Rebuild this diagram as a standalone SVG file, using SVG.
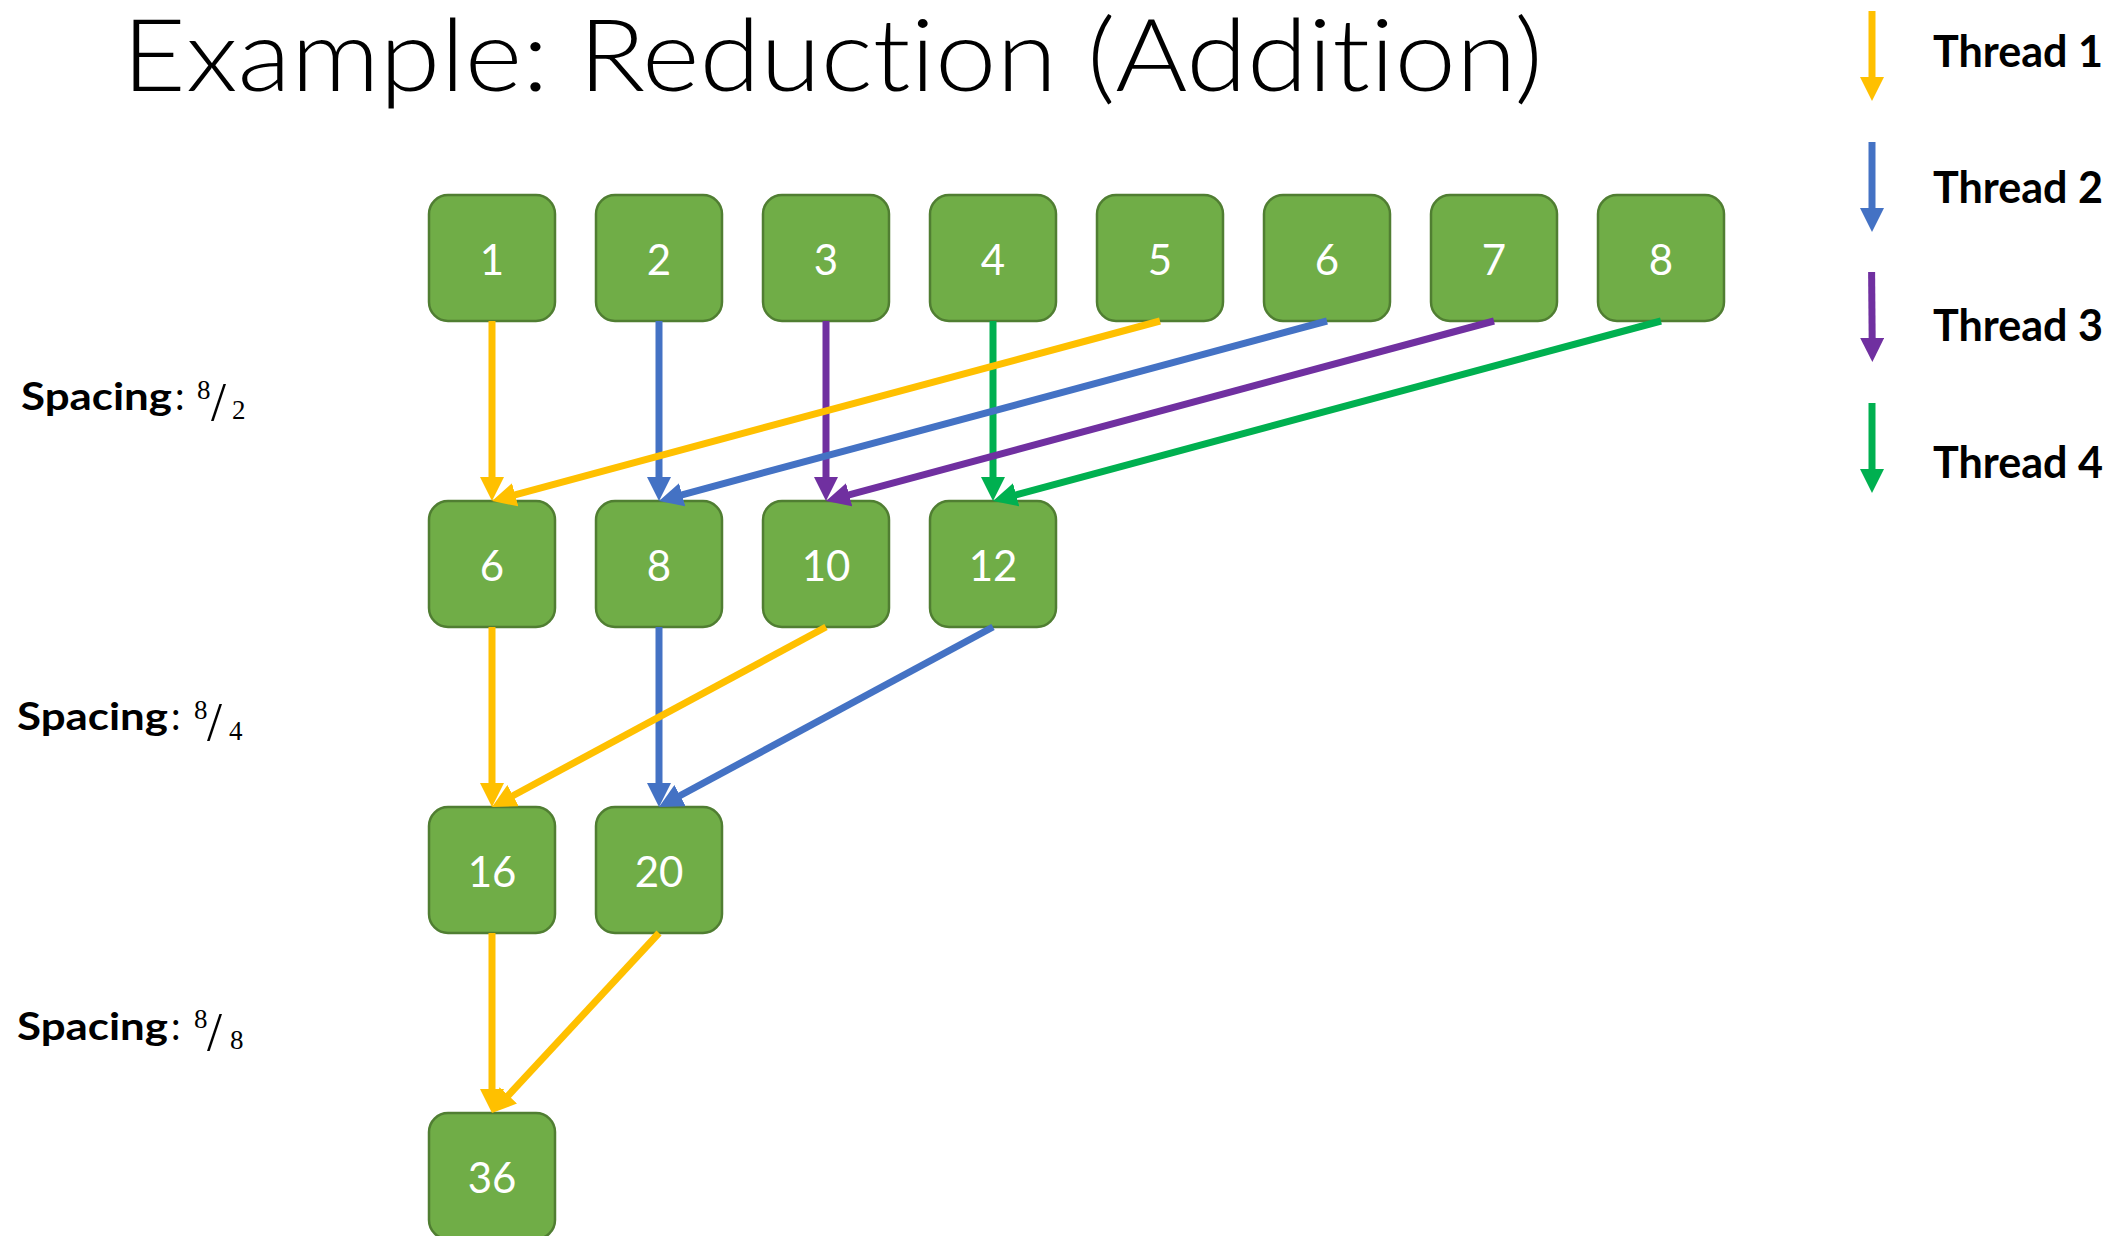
<svg xmlns="http://www.w3.org/2000/svg" width="2116" height="1236" viewBox="0 0 2116 1236">
  <style>
    text { font-variant-ligatures: none; font-feature-settings: "liga" 0, "clig" 0; }
    .title { font-family: Lato, "Open Sans", "Liberation Sans", sans-serif; font-weight: 300; font-size: 100px; fill: #000; }
    .box { fill: #70AD47; stroke: #507E32; stroke-width: 2.5; }
    .num { font-family: Lato, "Open Sans", "Liberation Sans", sans-serif; font-size: 42px; fill: #fff; text-anchor: middle; }
    .legend { font-family: Lato, "Liberation Sans", sans-serif; font-weight: 700; font-size: 44px; fill: #000; }
    .lab { font-family: Lato, "Liberation Sans", sans-serif; font-weight: 700; font-size: 38px; fill: #000; }
    .colon { font-family: Lato, "Liberation Sans", sans-serif; font-weight: 400; font-size: 38px; fill: #000; }
    .frac { font-family: "Liberation Serif", "DejaVu Serif", serif; font-size: 27px; fill: #000; }
    .slash { font-family: "Liberation Serif", "DejaVu Serif", serif; font-size: 54px; fill: #000; }
    .c { fill: none; stroke-width: 7; }
    .y { stroke: #FFC000; }
    .b { stroke: #4472C4; }
    .p { stroke: #7030A0; }
    .g { stroke: #00B050; }
    .y.c { marker-end: url(#ah-y); }
    .b.c { marker-end: url(#ah-b); }
    .p.c { marker-end: url(#ah-p); }
    .g.c { marker-end: url(#ah-g); }
  </style>
  <defs>
    <marker id="ah-y" markerUnits="userSpaceOnUse" viewBox="0 0 24 24" markerWidth="24" markerHeight="24" refX="4" refY="12" orient="auto"><path d="M0,0 L24,12 L0,24 z" fill="#FFC000"/></marker>
    <marker id="ah-b" markerUnits="userSpaceOnUse" viewBox="0 0 24 24" markerWidth="24" markerHeight="24" refX="4" refY="12" orient="auto"><path d="M0,0 L24,12 L0,24 z" fill="#4472C4"/></marker>
    <marker id="ah-p" markerUnits="userSpaceOnUse" viewBox="0 0 24 24" markerWidth="24" markerHeight="24" refX="4" refY="12" orient="auto"><path d="M0,0 L24,12 L0,24 z" fill="#7030A0"/></marker>
    <marker id="ah-g" markerUnits="userSpaceOnUse" viewBox="0 0 24 24" markerWidth="24" markerHeight="24" refX="4" refY="12" orient="auto"><path d="M0,0 L24,12 L0,24 z" fill="#00B050"/></marker>
  </defs>

  <rect width="2116" height="1236" fill="#fff"/>

  <text class="title" x="122" y="91" textLength="1421" lengthAdjust="spacingAndGlyphs">Example: Reduction (Addition)</text>

  <!-- spacing labels -->
  <g id="spacing-1">
    <text class="lab" x="21" y="409.5" textLength="151" lengthAdjust="spacingAndGlyphs">Spacing</text>
    <text class="colon" x="175" y="409.5">:</text>
    <text class="frac" x="197" y="399">8</text>
    <text class="slash" x="211" y="420">/</text>
    <text class="frac" x="232" y="419">2</text>
  </g>
  <g id="spacing-2">
    <text class="lab" x="17" y="729.5" textLength="151" lengthAdjust="spacingAndGlyphs">Spacing</text>
    <text class="colon" x="171" y="729.5">:</text>
    <text class="frac" x="194" y="719">8</text>
    <text class="slash" x="207" y="740">/</text>
    <text class="frac" x="229" y="739.5">4</text>
  </g>
  <g id="spacing-3">
    <text class="lab" x="17" y="1039.5" textLength="151" lengthAdjust="spacingAndGlyphs">Spacing</text>
    <text class="colon" x="171" y="1039.5">:</text>
    <text class="frac" x="194" y="1028">8</text>
    <text class="slash" x="207" y="1050">/</text>
    <text class="frac" x="230" y="1049">8</text>
  </g>

  <!-- input row -->
  <g id="n1-1"><rect class="box" x="429" y="195" width="126" height="126" rx="19"/><text class="num" x="492" y="275">1</text></g>
  <g id="n1-2"><rect class="box" x="596" y="195" width="126" height="126" rx="19"/><text class="num" x="659" y="275">2</text></g>
  <g id="n1-3"><rect class="box" x="763" y="195" width="126" height="126" rx="19"/><text class="num" x="826" y="275">3</text></g>
  <g id="n1-4"><rect class="box" x="930" y="195" width="126" height="126" rx="19"/><text class="num" x="993" y="275">4</text></g>
  <g id="n1-5"><rect class="box" x="1097" y="195" width="126" height="126" rx="19"/><text class="num" x="1160" y="275">5</text></g>
  <g id="n1-6"><rect class="box" x="1264" y="195" width="126" height="126" rx="19"/><text class="num" x="1327" y="275">6</text></g>
  <g id="n1-7"><rect class="box" x="1431" y="195" width="126" height="126" rx="19"/><text class="num" x="1494" y="275">7</text></g>
  <g id="n1-8"><rect class="box" x="1598" y="195" width="126" height="126" rx="19"/><text class="num" x="1661" y="275">8</text></g>

  <!-- step 1 results -->
  <g id="n2-1"><rect class="box" x="429" y="501" width="126" height="126" rx="19"/><text class="num" x="492" y="581">6</text></g>
  <g id="n2-2"><rect class="box" x="596" y="501" width="126" height="126" rx="19"/><text class="num" x="659" y="581">8</text></g>
  <g id="n2-3"><rect class="box" x="763" y="501" width="126" height="126" rx="19"/><text class="num" x="826" y="581">10</text></g>
  <g id="n2-4"><rect class="box" x="930" y="501" width="126" height="126" rx="19"/><text class="num" x="993" y="581">12</text></g>

  <!-- step 2 results -->
  <g id="n3-1"><rect class="box" x="429" y="807" width="126" height="126" rx="19"/><text class="num" x="492" y="887">16</text></g>
  <g id="n3-2"><rect class="box" x="596" y="807" width="126" height="126" rx="19"/><text class="num" x="659" y="887">20</text></g>

  <!-- final sum -->
  <g id="n4-1"><rect class="box" x="429" y="1113" width="126" height="126" rx="19"/><text class="num" x="492" y="1193">36</text></g>

  <!-- connectors -->
  <g id="connectors">
    <line class="c y" x1="492" y1="321" x2="492" y2="481"/>
    <line class="c b" x1="659" y1="321" x2="659" y2="481"/>
    <line class="c p" x1="826" y1="321" x2="826" y2="481"/>
    <line class="c g" x1="993" y1="321" x2="993" y2="481"/>
    <line class="c y" x1="1160" y1="321" x2="511.3" y2="495.8"/>
    <line class="c b" x1="1327" y1="321" x2="678.3" y2="495.8"/>
    <line class="c p" x1="1494" y1="321" x2="845.3" y2="495.8"/>
    <line class="c g" x1="1661" y1="321" x2="1012.3" y2="495.8"/>

    <line class="c y" x1="492" y1="627" x2="492" y2="787"/>
    <line class="c b" x1="659" y1="627" x2="659" y2="787"/>
    <line class="c y" x1="826" y1="627" x2="509.6" y2="797.5"/>
    <line class="c b" x1="993" y1="627" x2="676.6" y2="797.5"/>

    <line class="c y" x1="492" y1="933" x2="492" y2="1093"/>
    <line class="c y" x1="659" y1="933" x2="505.6" y2="1098.3"/>
  </g>

  <!-- legend -->
  <g id="legend-1">
    <line class="c y" x1="1872" y1="11" x2="1872" y2="81"/>
    <text class="legend" x="1933" y="67" textLength="170" lengthAdjust="spacingAndGlyphs">Thread 1</text>
  </g>
  <g id="legend-2">
    <line class="c b" x1="1872" y1="142" x2="1872" y2="212"/>
    <text class="legend" x="1933" y="203" textLength="170" lengthAdjust="spacingAndGlyphs">Thread 2</text>
  </g>
  <g id="legend-3">
    <line class="c p" x1="1871.6" y1="272" x2="1872.2" y2="342"/>
    <text class="legend" x="1933" y="341" textLength="170" lengthAdjust="spacingAndGlyphs">Thread 3</text>
  </g>
  <g id="legend-4">
    <line class="c g" x1="1872" y1="403" x2="1872" y2="473"/>
    <text class="legend" x="1933" y="478" textLength="170" lengthAdjust="spacingAndGlyphs">Thread 4</text>
  </g>
</svg>
